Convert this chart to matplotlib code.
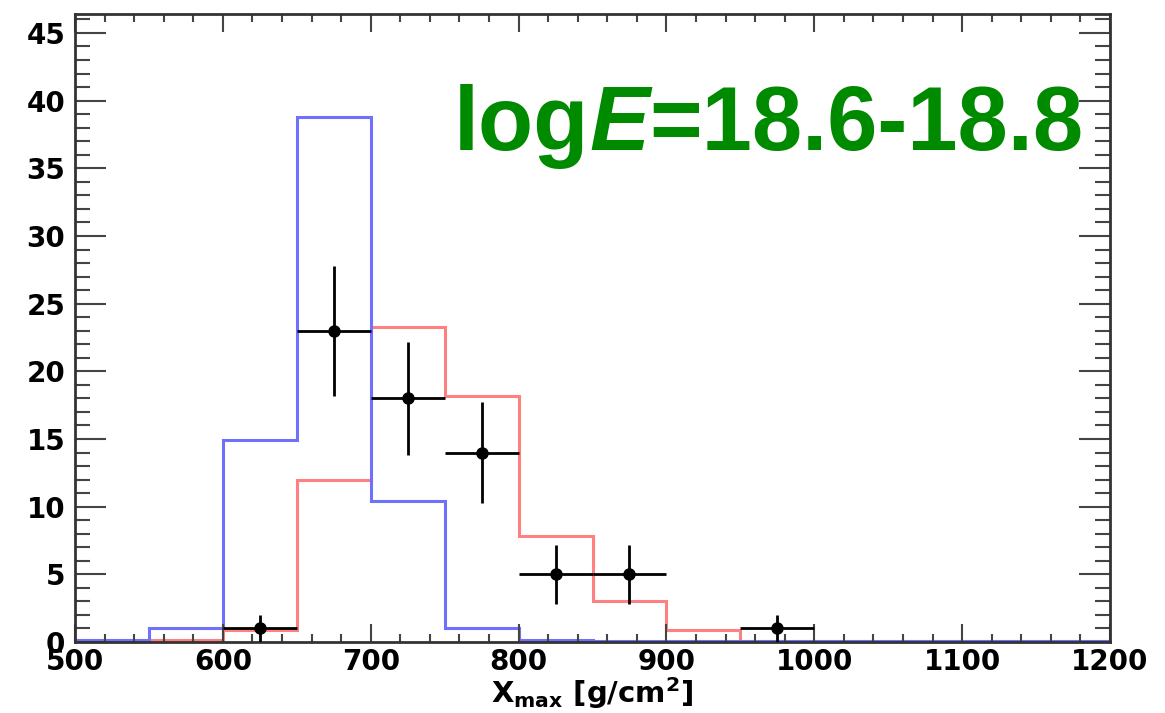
import matplotlib
matplotlib.use("Agg")
import matplotlib.pyplot as plt
import numpy as np
from matplotlib.ticker import MultipleLocator

plt.rcParams["font.family"] = ["DejaVu Sans"]
plt.rcParams["mathtext.fontset"] = "dejavusans"
plt.rcParams["mathtext.default"] = "bf"

# bin edges of the Xmax histograms (g/cm^2)
bin_edges = [500, 550, 600, 650, 700, 750, 800, 850, 900, 950, 1000, 1050, 1100, 1150, 1200]
# simulated distributions
blue_counts = [0.15, 1.0, 14.9, 38.8, 10.4, 1.0, 0.15, 0.05, 0.05, 0.05, 0.05, 0.05, 0.05, 0.05]
red_counts = [0.15, 0.15, 0.9, 12.0, 23.3, 18.2, 7.8, 3.0, 0.9, 0.1, 0.1, 0.05, 0.05, 0.05]
# observed data
data_x = [625, 675, 725, 775, 825, 875, 975]
data_y = [1, 23, 18, 14, 5, 5, 1]
data_yerr = [1.0, 4.8, 4.2, 3.7, 2.2, 2.2, 1.0]
data_xerr = [25, 25, 25, 25, 25, 25, 25]

fig = plt.figure(figsize=(11.65, 7.13), dpi=100)
ax = fig.add_axes([75 / 1165, 1 - 642 / 713, 1035 / 1165, 628 / 713])

ax.stairs(red_counts, bin_edges, color="#ff8080", lw=2.2, baseline=None)
ax.stairs(blue_counts, bin_edges, color="#7070ff", lw=2.2, baseline=None)
ax.errorbar(data_x, data_y, xerr=data_xerr, yerr=data_yerr, fmt="o", color="black",
            ms=8, elinewidth=2, capsize=0, zorder=5)

ax.set_xlim(500, 1200)
ax.set_ylim(0, 46.4)
ax.xaxis.set_major_locator(MultipleLocator(100))
ax.xaxis.set_minor_locator(MultipleLocator(20))
ax.yaxis.set_major_locator(MultipleLocator(5))
ax.yaxis.set_minor_locator(MultipleLocator(1))
ax.tick_params(which="both", direction="in", top=True, right=True, width=1.5, color="#444444")
ax.tick_params(axis="y", which="major", length=22)
ax.tick_params(axis="y", which="minor", length=11)
ax.tick_params(axis="x", which="major", length=13)
ax.tick_params(axis="x", which="minor", length=6)
ax.tick_params(axis="y", labelsize=20, pad=7)
ax.tick_params(axis="x", labelsize=20, pad=4)
for lab in ax.get_xticklabels() + ax.get_yticklabels():
    lab.set_fontweight("bold")
for sp in ax.spines.values():
    sp.set_linewidth(2)
    sp.set_color("#333333")

ax.set_xlabel("X$_{max}$ [g/cm$^{2}$]", fontsize=21, fontweight="bold", labelpad=0)

green = "#008a00"
fs = 65
t1 = ax.text(0.366, 0.783, "log", transform=ax.transAxes, fontsize=fs,
             fontweight="bold", color=green, va="baseline", family="Liberation Sans")
t2 = ax.annotate("E", xy=(1, 0), xycoords=t1, fontsize=fs, fontweight="bold",
                 fontstyle="italic", color=green, va="bottom", family="Liberation Sans")
t3 = ax.annotate("=18.6-18.8", xy=(1, 0), xycoords=t2, fontsize=fs,
                 fontweight="bold", color=green, va="bottom", family="Liberation Sans")

fig.savefig("out.png", dpi=100)
